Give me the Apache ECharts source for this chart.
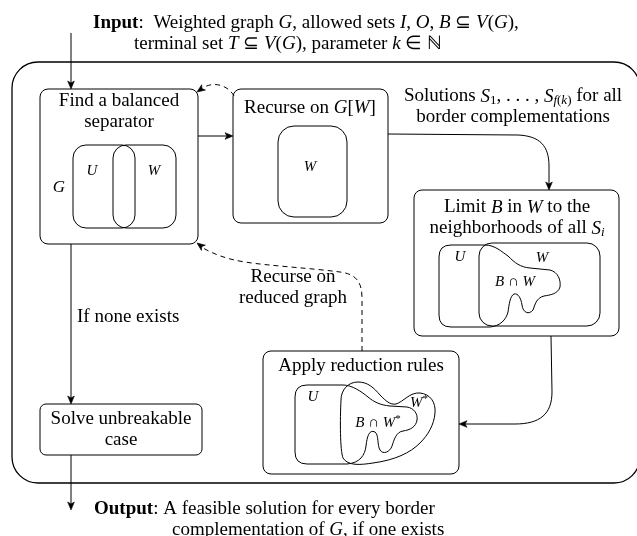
<!DOCTYPE html>
<html>
<head>
<meta charset="utf-8">
<script src="https://cdn.jsdelivr.net/npm/echarts@6/dist/echarts.min.js"></script>
<style>
  html, body { margin: 0; padding: 0; background: #fff; }
  #main { width: 637px; height: 536px; }
</style>
</head>
<body>
<div id="main"></div>
<script>
// texts of the diagram
const inputLines = [
  '{b|Input}{pc|:} Weighted graph {i|G}, allowed sets {i|I}, {i|O}, {i|B} ⊆ {i|V}({i|G}),',
  'terminal set {i|T} ⊆ {i|V}({i|G}), parameter {i|k} ∈ ℕ'
]
const outputLines = [
  '{b|Output}: A feasible solution for every border',
  'complementation of {i|G}, if one exists'
]
const stepTitles = [
  'Find a balanced\nseparator',
  'Recurse on {i|G}[{i|W}]',
  'Limit {i|B} in {i|W} to the\nneighborhoods of all {i|S}{sub|i}',
  'Apply reduction rules',
  'Solve unbreakable\ncase'
]
const edgeLabels = [
  'Solutions {i|S}{subr|1}, . . . , {i|S}{sub|f}{subr|(}{sub|k}{subr|)} for all\nborder complementations',
  'Recurse on\nreduced graph',
  'If none exists'
]
const vennLabels = [
  ['{i|U}', '{i|W}', '{i|G}'],
  ['{i|W}'],
  ['{i|U}', '{i|W}', '{i|B} ∩ {i|W}'],
  ['{i|U}', '{i|W}{sup|*}', '{i|B} ∩ {i|W}{sup|*}']
]

const FONT = 'Liberation Serif'
const rich = (size) => ({
  b: { fontFamily: FONT, fontSize: size, fontWeight: 'bold', fill: '#000' },
  pc: { fontFamily: FONT, fontSize: size, fill: '#000', padding: [0, 5, 0, 0] },
  i: { fontFamily: FONT, fontSize: size, fontStyle: 'italic', fill: '#000' },
  sub: { fontFamily: FONT, fontSize: Math.round(size * 0.68), fontStyle: 'italic', fill: '#000', padding: [9, 0, 0, 0] },
  subr: { fontFamily: FONT, fontSize: Math.round(size * 0.68), fill: '#000', padding: [9, 0, 0, 0] },
  sup: { fontFamily: FONT, fontSize: Math.round(size * 0.72), fill: '#000', padding: [0, 0, 8, 0] }
})

const txt = (x, y, text, size, align) => ({
  type: 'text',
  x: x,
  y: y,
  style: {
    text: text,
    fontFamily: FONT,
    fontSize: size,
    lineHeight: 21,
    fill: '#000',
    textAlign: align || 'center',
    textVerticalAlign: 'middle',
    rich: rich(size)
  }
})

const box = (x, y, w, h, r, lw) => ({
  type: 'rect',
  shape: { x: x, y: y, width: w, height: h, r: r },
  style: { fill: 'none', stroke: '#000', lineWidth: lw || 1 }
})

const path = (d, dashed) => ({
  type: 'path',
  shape: { pathData: d },
  style: { fill: 'none', stroke: '#000', lineWidth: 1, lineDash: dashed ? [5, 4] : null }
})

// arrow head: tip at (x, y), pointing along direction (dx, dy)
const head = (x, y, dx, dy) => {
  const len = Math.sqrt(dx * dx + dy * dy)
  const ux = dx / len, uy = dy / len
  const L = 8, H = 3.3
  return {
    type: 'polygon',
    shape: {
      points: [
        [x, y],
        [x - ux * L - uy * H, y - uy * L + ux * H],
        [x - ux * L * 0.75, y - uy * L * 0.75],
        [x - ux * L + uy * H, y - uy * L - ux * H]
      ]
    },
    style: { fill: '#000', stroke: '#000', lineWidth: 0.6 }
  }
}

const T = 19

const buildDiagram = () => {
  const elements = []

  // outer frame
  elements.push(box(12, 62, 628, 421, 26, 1.3))

  // step boxes
  elements.push(box(40, 89, 158, 155, 8))
  elements.push(box(233, 89, 155, 134, 8))
  elements.push(box(414, 190, 205, 146, 8))
  elements.push(box(263, 351, 196, 123, 8))
  elements.push(box(40, 404, 162, 51, 6))

  elements.push(txt(119, 112, stepTitles[0], T))
  elements.push(txt(310, 108, stepTitles[1], T))
  elements.push(txt(517, 218, stepTitles[2], T))
  elements.push(txt(361, 366, stepTitles[3], T))
  elements.push(txt(121, 430, stepTitles[4], T))

  // venn sketches
  elements.push(box(73, 145, 62, 83, 13))
  elements.push(box(113, 145, 63, 83, 13))
  elements.push(txt(92, 171, vennLabels[0][0], 15))
  elements.push(txt(154, 171, vennLabels[0][1], 15))
  elements.push(txt(59, 188, vennLabels[0][2], 17))

  elements.push(box(278, 126, 69, 91, 16))
  elements.push(txt(310, 167, vennLabels[1][0], 15))

  elements.push(box(479, 243, 121, 83, 13))
  elements.push(path('M 439 257 Q 439 245 451 245 L 485 245 C 495 245 502 252 508 256 C 515 263 520 267 530 268 L 550 270 ' +
    'C 558 272 561 280 560 287 C 558 294 550 295 544 296 C 536 298 535 305 533 310 C 529 315 523 313 522 305 ' +
    'C 521 298 518 293 514 294 C 510 296 509 305 508 312 C 506 320 500 326 490 327 L 451 327 Q 439 327 439 315 Z'))
  elements.push(txt(460, 257, vennLabels[2][0], 15))
  elements.push(txt(542, 258, vennLabels[2][1], 15))
  elements.push(txt(515, 282, vennLabels[2][2], 15))

  elements.push(path('M 295 397 Q 295 385 307 385 L 343 385 C 352 385 362 392 368 397 C 374 402 380 405 390 406 L 407 407 ' +
    'C 414 408 418 414 417 420 C 416 427 410 430 403 431 C 396 432 394 440 392 446 C 390 452 383 455 380 450 ' +
    'C 377 445 379 435 375 432 C 369 429 367 437 366 446 C 365 455 360 463 347 464 L 307 464 Q 295 464 295 452 Z'))
  elements.push(path('M 341 400 C 341 390 348 382 358 382 C 368 382 374 388 380 395 C 386 401 390 405 396 404 ' +
    'C 403 402 410 392 420 393 C 430 394 436 402 435 413 C 434 425 428 435 420 443 C 410 453 395 460 373 463 ' +
    'C 360 465 348 466 343 458 C 340 450 340 420 341 400 Z'))
  elements.push(txt(313, 397, vennLabels[3][0], 15))
  elements.push(txt(419, 403, vennLabels[3][1], 15))
  elements.push(txt(378, 423, vennLabels[3][2], 15))

  // edges
  elements.push(path('M 71 33 L 71 83'))
  elements.push(head(71, 89, 0, 1))
  elements.push(path('M 198 136 L 227 136'))
  elements.push(head(233, 136, 1, 0))
  elements.push(path('M 234 96 C 228 85 213 81 203 88', true))
  elements.push(head(197, 92, -1, 0.7))
  elements.push(path('M 388 134 L 518 135 C 540 136 549 146 549 166 L 549 184'))
  elements.push(head(549, 190, 0, 1))
  elements.push(path('M 551 336 L 552 392 C 552 414 540 424 515 424 L 465 424'))
  elements.push(head(459, 424, -1, 0))
  elements.push(path('M 362 351 L 362 298 C 362 282 356 274 340 272 C 310 268 270 266 245 262 C 225 259 212 253 203 248', true))
  elements.push(head(197, 243, -1.2, -0.9))
  elements.push(path('M 71 244 L 71 398'))
  elements.push(head(71, 404, 0, 1))
  elements.push(path('M 71 455 L 71 504'))
  elements.push(head(71, 510, 0, 1))

  elements.push(txt(513, 107, edgeLabels[0], T))
  elements.push(txt(293, 288, edgeLabels[1], T))
  elements.push(txt(77, 317, edgeLabels[2], T, 'left'))

  // input / output text
  elements.push(txt(93, 23, inputLines[0], T, 'left'))
  elements.push(txt(134, 44, inputLines[1], T, 'left'))
  elements.push(txt(94, 509, outputLines[0], T, 'left'))
  elements.push(txt(172, 530, outputLines[1], T, 'left'))

  return elements
}

const chart = echarts.init(document.getElementById('main'))
chart.setOption({
  backgroundColor: '#fff',
  animation: false,
  series: [{
    type: 'custom',
    coordinateSystem: 'none',
    silent: true,
    data: [[0]],
    renderItem: () => ({ type: 'group', children: buildDiagram() })
  }]
})
</script>
</body>
</html>
